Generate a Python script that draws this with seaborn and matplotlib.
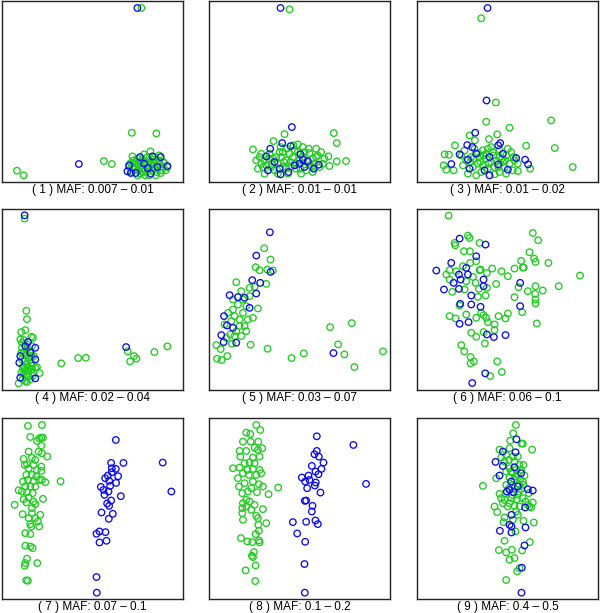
import matplotlib
matplotlib.use("Agg")
import matplotlib.pyplot as plt
import seaborn as sns
import pandas as pd

sns.set_theme(style="white")
plt.rcParams['font.family'] = ['Liberation Sans', 'DejaVu Sans']

# MAF bin labels
maf_labels = ["0.007 \u2013 0.01", "0.01 \u2013 0.01", "0.01 \u2013 0.02",
              "0.02 \u2013 0.04", "0.03 \u2013 0.07", "0.06 \u2013 0.1",
              "0.07 \u2013 0.1", "0.1 \u2013 0.2", "0.4 \u2013 0.5"]

# (PC1, PC2) scores, arbitrary units (0..544)
p1_blue = [(407,523),(231,54),(377,32),(387,27),(402,27),(438,42),(452,77),(477,75),(497,48),
           (415,75),(382,50),(447,25),(427,55),(467,45)]
p1_green = [(419,523),(390,148),(464,146),(45,34),(65,20),(306,63),(330,54),
            (392,77),(407,70),(427,83),(446,92),(459,75),(472,65),(487,57),(492,35),(477,27),(462,40),
            (437,30),(417,25),(397,40),(387,57),(402,55),(417,47),(432,60),(447,55),(457,57),(467,53),
            (482,45),(437,75),(422,67),(442,45),(452,35),(409,35),(392,45),(427,40),(472,80),(497,45),
            (407,20),(442,20),(462,20),(382,45),(395,65),(415,60),(435,50),(455,67),(479,35),(425,30),
            (400,60),(420,40),(445,65),(465,30),(485,60),(430,20),(410,50),(455,45),(390,30),(475,55)]

p2_blue = [(215,523),(249,165),(220,117),(184,100),(172,77),(245,108),(275,83),(297,63),(282,67),
           (212,40),(177,35),(215,23),(239,30),(257,50),(315,40),(330,52),(272,55),(197,60),(287,45)]
p2_green = [(242,519),(375,147),(384,117),(227,144),(194,123),(132,98),(412,63),(384,62),(359,77),(362,48),
            (152,75),(157,55),(147,40),(167,25),(187,45),(202,75),(222,90),(234,100),(254,110),(267,113),
            (282,105),(302,87),(322,100),(337,90),(347,70),(332,45),(312,30),(292,35),(277,25),(262,40),
            (247,47),(232,65),(217,75),(207,55),(192,70),(182,85),(167,65),(162,45),(237,25),(252,75),
            (267,90),(282,75),(312,70),(327,80),(342,55),(222,45),(197,35),(272,65),(257,95),(242,85),
            (302,50),(317,55),(212,90),(172,50),(287,90),(232,40),(207,25),(322,75),(157,85),(142,65),
            (190,55),(245,60),(260,55),(295,60),(310,45),(180,70),(225,60),(275,40),(300,100),(215,105)]

p3_blue = [(212,523),(209,245),(175,148),(151,111),(166,105),(128,83),(250,117),(244,110),(103,54),
           (153,67),(158,40),(218,20),(203,35),(244,53),(273,37),(298,72),(325,67),(334,53),(178,85),
           (218,75),(258,85)]
p3_green = [(193,492),(237,239),(208,181),(278,163),(403,185),(414,102),(468,45),(328,109),(114,110),
            (83,83),(96,82),(80,50),(88,37),(110,35),(241,143),(216,129),(174,125),(158,140),(340,40),
            (303,33),(288,35),
            (133,80),(148,65),(163,75),(183,87),(198,95),(213,100),(228,90),(248,75),(268,80),(283,90),
            (293,65),(278,55),(263,45),(248,30),(233,23),(213,40),(198,50),(183,55),(168,45),(153,25),
            (138,50),(188,75),(208,70),(223,60),(238,65),(258,60),(273,100),(223,105),(173,100),(193,30),
            (268,25),(233,45),(178,20),(303,55),(143,95),(208,85),(248,97),
            (160,60),(190,60),(215,55),(245,45),(255,70),(290,75),(200,80),(230,80),(170,70),(265,65)]

p4_blue = [(68,525),(373,129),(78,144),(100,127),(55,102),(52,82),(100,92),(55,37),(100,35),(85,112),(70,132)]
p4_green = [(68,515),(73,238),(75,213),(70,180),(58,174),(88,160),(55,152),(93,157),(178,80),(229,96),
            (252,97),(378,116),(385,86),(397,102),(404,94),(458,114),(497,131),(50,20),(113,51),(105,69),
            (70,27),(85,32),
            (60,142),(75,122),(90,132),(65,112),(80,97),(95,102),(60,92),(75,77),(90,72),(62,67),(80,57),
            (95,52),(65,47),(78,42),(60,127),(88,82),(72,107),(100,67),(68,62),(85,117),(58,52),(92,42),
            (75,24),(62,32),
            (70,87),(85,92),(65,72),(80,67),(90,62),(70,57),(58,112),(88,102),(75,137),(66,150)]

p5_blue = [(183,474),(142,404),(185,355),(130,330),(154,322),(142,290),(62,285),(87,279),(107,277),
           (122,247),(45,222),(54,194),(72,187),(37,165),(44,144),(82,142),(374,111)]
p5_green = [(166,426),(185,392),(140,369),(152,360),(175,362),(192,359),(172,319),(82,324),(137,310),
            (97,297),(122,282),(147,245),(112,252),(72,242),(102,232),(132,217),(117,212),(92,212),(67,207),
            (47,197),(82,177),(112,177),(97,162),(64,167),(52,157),(69,139),(125,136),(22,135),(35,123),
            (55,102),(24,94),(38,90),(176,124),(248,96),(285,110),(364,189),(429,201),(388,137),(407,107),
            (437,69),(523,116),(72,272),(87,257),(102,272),(122,307),(77,222),(57,232),(92,192),(77,162),
            (107,192)]

p6_blue = [(128,455),(206,437),(178,402),(103,382),(58,359),(126,347),(153,347),(200,332),(131,332),
           (310,322),(110,322),(200,312),(81,302),(126,304),(163,284),(130,259),(163,257),(191,250),
           (310,252),(128,199),(155,204),(210,167),(231,159),(266,165),(205,50),(166,21),(148,367)]
p6_green = [(95,524),(348,472),(364,450),(153,464),(158,457),(113,442),(115,435),(188,442),(141,417),
            (159,417),(338,414),(313,388),(352,395),(356,385),(395,382),(318,368),(293,365),(321,368),
            (178,387),(160,382),(138,372),(98,360),(88,347),(118,357),(188,360),(210,352),(226,365),
            (254,357),(273,342),(490,344),(98,332),(148,327),(176,322),(210,307),(238,319),(305,309),
            (333,297),(356,312),(378,299),(426,312),(355,289),(356,272),(356,260),(293,279),(106,295),
            (143,302),(186,304),(183,280),(206,284),(128,254),(193,232),(200,225),(148,227),(98,222),
            (116,215),(178,217),(208,217),(245,222),(273,230),(266,215),(316,234),(360,200),(213,204),
            (233,197),(233,180),(163,172),(178,160),(200,174),(204,140),(133,135),(142,116),(161,99),
            (171,86),(161,80),(241,86),(255,54),(220,42),(191,362),(168,340)]

p7_blue = [(342,478),(365,409),(483,410),(328,409),(330,393),(342,391),(330,381),(318,371),(349,369),
           (310,363),(322,355),(343,349),(297,337),(325,340),(509,323),(320,323),(308,313),(357,309),
           (328,296),(316,287),(322,280),(299,260),(333,256),(321,241),(293,203),(284,196),(311,201),
           (293,170),(314,175),(284,66),(285,19),(305,328)]
p7_green = [(78,520),(120,523),(85,487),(118,485),(112,483),(123,485),(105,475),(118,461),(110,443),
            (80,443),(120,438),(136,428),(65,421),(90,425),(100,418),(75,405),(68,403),(95,403),(118,398),
            (80,393),(105,388),(118,385),(73,373),(90,373),(103,368),(120,358),(130,351),(63,353),(78,358),
            (95,355),(112,358),(176,354),(70,338),(85,338),(100,338),(50,327),(60,323),(75,321),(92,318),
            (80,305),(65,300),(123,301),(95,293),(73,290),(100,285),(38,283),(90,273),(62,255),(90,258),
            (115,253),(80,243),(100,243),(108,233),(85,225),(112,218),(88,218),(70,198),(85,195),(70,160),
            (85,158),(92,153),(75,121),(70,108),(68,100),(106,108),(73,56),(78,55)]

p8_blue = [(324,489),(434,463),(324,445),(317,435),(330,428),(344,410),(309,400),(338,391),(320,383),
           (329,375),(299,371),(279,365),(289,353),(321,350),(318,341),(295,333),(335,320),(472,346),
           (292,296),(288,295),(311,280),(309,263),(252,231),(292,232),(320,236),(327,225),(265,197),
           (289,172),(287,105),(288,19),(302,358)]
p8_green = [(142,523),(154,508),(112,500),(124,496),(102,473),(125,473),(148,473),(137,455),(160,453),
            (92,445),(112,445),(147,448),(94,428),(132,425),(152,428),(72,393),(92,395),(107,408),(122,411),
            (137,408),(115,388),(132,391),(152,388),(102,378),(120,373),(142,373),(157,378),(90,338),
            (107,348),(132,353),(150,345),(162,338),(208,335),(100,318),(117,323),(144,321),(179,315),
            (112,298),(102,288),(122,293),(137,283),(112,278),(127,268),(100,273),(162,270),(100,258),
            (142,250),(102,238),(147,243),(172,228),(148,223),(150,205),(140,195),(96,183),(115,173),
            (130,171),(150,176),(152,170),(135,141),(129,130),(132,126),(140,101),(110,86),(139,54),
            (87,363),(127,333)]

p9_blue = [(299,480),(296,441),(258,443),(236,412),(258,400),(293,396),(248,371),(313,378),(283,353),
           (278,328),(270,323),(290,321),(333,330),(348,326),(325,275),(284,253),(278,223),(284,218),
           (284,200),(249,205),(326,215),(323,161),(315,94),(314,19),(303,338)]
p9_green = [(297,523),(289,498),(280,476),(318,467),(314,467),(346,449),(248,449),(278,453),(268,433),
            (288,428),(303,428),(253,425),(276,418),(263,413),(293,413),(308,403),(320,403),(278,393),
            (298,388),(313,388),(268,383),(288,378),(303,373),(323,371),(238,363),(278,365),(293,358),
            (310,361),(198,340),(268,343),(288,343),(306,345),(320,343),(248,316),(266,318),(286,313),
            (303,313),(336,318),(313,331),(253,303),(263,298),(278,288),(300,300),(326,293),(348,290),
            (333,283),(343,275),(338,278),(233,278),(273,278),(293,280),(308,278),(241,261),(303,253),
            (263,245),(288,238),(320,235),(351,230),(260,231),(296,203),(263,175),(339,171),(246,147),
            (268,140),(285,148),(316,146),(278,118),(293,123),(308,93),(301,83),(268,57),
            (283,383),(298,368),(318,353),(293,333),(276,333),(306,323),(283,303),(258,288),(318,303),(298,263)]

panels = [(p1_green, p1_blue), (p2_green, p2_blue), (p3_green, p3_blue),
          (p4_green, p4_blue), (p5_green, p5_blue), (p6_green, p6_blue),
          (p7_green, p7_blue), (p8_green, p8_blue), (p9_green, p9_blue)]

GREEN = "#1fcc1f"
BLUE = "#0b0bee"

W, H = 600, 613
fig = plt.figure(figsize=(W / 100, H / 100), dpi=100)
fig.patch.set_facecolor("white")

col_left = [2, 209, 417]
row_top = [1, 209, 418]
size_w, size_h = 181, 181

for i, (green, blue) in enumerate(panels):
    r, c = divmod(i, 3)
    ax = fig.add_axes([col_left[c] / W, 1 - (row_top[r] + size_h) / H, size_w / W, size_h / H])
    for pts, col in ((green, GREEN), (blue, BLUE)):
        df = pd.DataFrame(pts, columns=["PC1", "PC2"])
        sns.scatterplot(data=df, x="PC1", y="PC2", ax=ax, color=col, s=22, marker="o", legend=False)
        coll = ax.collections[-1]
        coll.set_facecolor("none")
        coll.set_edgecolor(col)
        coll.set_linewidth(0.95)
    ax.set_xlim(0, 544)
    ax.set_ylim(0, 544)
    ax.set_xticks([])
    ax.set_yticks([])
    ax.set_xlabel("")
    ax.set_ylabel("")
    ax.set_facecolor("white")
    for sp in ax.spines.values():
        sp.set_visible(True)
        sp.set_color("#222222")
        sp.set_linewidth(1.0)
    ax.annotate(f"( {i + 1} ) MAF: {maf_labels[i]}", xy=(0.5, 0), xycoords="axes fraction",
                xytext=(0, -8), textcoords="offset pixels", ha="center", va="center",
                fontsize=8.5, color="black")

fig.savefig("out.png", dpi=100, facecolor="white")
